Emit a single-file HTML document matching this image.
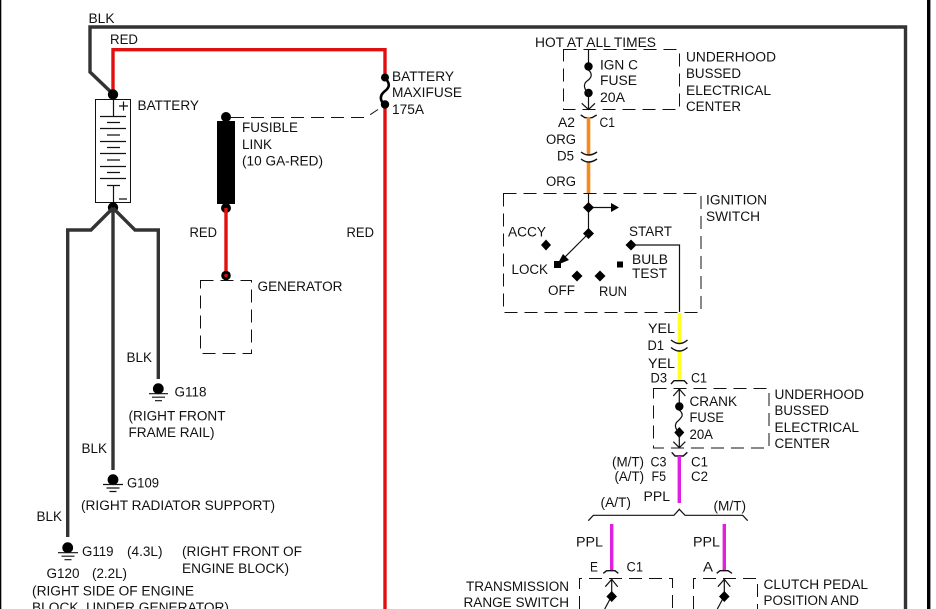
<!DOCTYPE html>
<html>
<head>
<meta charset="utf-8">
<style>
html,body{margin:0;padding:0;background:#fff;width:936px;height:609px;overflow:hidden}
svg{display:block}
text{font-family:"Liberation Sans",sans-serif;font-size:13.5px;fill:#111}
.d{fill:none;stroke:#111;stroke-width:1;stroke-dasharray:13 7}
.l{fill:none;stroke:#111;stroke-width:1.2}
.f{fill:none;stroke:#111;stroke-width:1.4}
.k{fill:none;stroke:#333;stroke-width:3.4}
.r{fill:none;stroke:#e01010;stroke-width:3.4}
.o{fill:none;stroke:#f58a1f;stroke-width:3.6}
.y{fill:none;stroke:#ffff20;stroke-width:3.6}
.m{fill:none;stroke:#e020e0;stroke-width:3.4}
</style>
</head>
<body>
<svg width="936" height="609" viewBox="0 0 936 609" xmlns="http://www.w3.org/2000/svg">
<rect width="936" height="609" fill="#fff"/>
<rect x="0" y="0" width="1.3" height="609" fill="#000"/>
<rect x="927" y="0" width="3.4" height="609" fill="#000"/>

<!-- main wires -->
<polyline class="k" points="113,94 90,72 90,27 905.5,27 905.5,609"/>
<polyline class="r" points="113,94 113,49.7 385,49.7 385,74"/>
<line class="r" x1="385" y1="105" x2="385" y2="609"/>

<!-- battery -->
<rect x="95.5" y="99.5" width="35" height="103" fill="#fff" stroke="#111" stroke-width="1"/>
<path class="l" d="M113.5 99V116.5M100 116.5H126M107 122.5H120M100 128.5H126M107 135H120M100 141.5H126M107 147.5H120M100 153.5H126M107 160H120M100 166.5H126M107 172.5H120M100 178.5H126M107 185.5H120M113.5 185.5V202"/>
<path d="M119 106H128M123.5 101.5V110.5M119 199H127" fill="none" stroke="#111" stroke-width="1.2"/>
<circle cx="113" cy="94.5" r="5.2" fill="#000"/>
<circle cx="113" cy="207.5" r="5.2" fill="#000"/>
<polyline class="k" points="113,208 91,230 67.7,230 67.7,537"/>
<line class="k" x1="113" y1="208" x2="113" y2="470"/>
<polyline class="k" points="113,208 135,230 158.3,230 158.3,379"/>

<!-- grounds -->
<circle cx="158.3" cy="388.7" r="5.4" fill="#000"/>
<path class="l" d="M149 393.7H168M152 397.2H165M155 400.7H162"/>
<circle cx="113" cy="479.7" r="5.4" fill="#000"/>
<path class="l" d="M103 484.5H123M106.5 488H119.5M109.5 491.5H116.5"/>
<circle cx="67.7" cy="547.7" r="5.4" fill="#000"/>
<path class="l" d="M58 552.7H78M61.5 556.2H74.5M64.5 559.7H71.5"/>

<!-- fusible link -->
<rect x="217" y="121" width="18" height="83" fill="#000"/>
<circle cx="226" cy="117" r="5" fill="#000"/>
<circle cx="226" cy="208" r="5" fill="#000"/>
<line class="r" x1="226" y1="208" x2="226" y2="275"/>
<circle cx="226" cy="275.5" r="4.8" fill="#000"/>
<circle cx="226" cy="275.5" r="1.8" fill="#d01010"/>
<polyline class="d" points="231,117.5 366,117.5 378,109.5"/>
<rect class="d" x="200.5" y="280.5" width="51" height="73"/>

<!-- maxifuse -->
<circle cx="385" cy="77.5" r="4" fill="#000"/>
<circle cx="385" cy="104.5" r="4.2" fill="#000"/>
<path d="M385 78C391 84 389 88 385 91C380 95 379 100 385 105" fill="none" stroke="#000" stroke-width="2.6"/>

<!-- ign c fuse box -->
<rect class="d" x="563.5" y="49.5" width="116" height="60"/>
<line class="l" x1="588.5" y1="50" x2="588.5" y2="66"/>
<circle cx="588.5" cy="66.5" r="4.2" fill="#000"/>
<circle cx="588.5" cy="93" r="4.2" fill="#000"/>
<path class="l" d="M588.5 70C594 75 590 79 587 81C583 84 584 89 588 93"/>
<path class="l" d="M588.5 93V109.5M581.7 103.3L588.5 109.5L595 103.3"/>
<path class="f" d="M580.7 115L585 117.7H592L596.7 115"/>
<line class="o" x1="588.5" y1="117" x2="588.5" y2="155"/>
<line class="o" x1="588.5" y1="162" x2="588.5" y2="193"/>
<path class="f" d="M581 152Q588.5 158 597 152M581 159Q588.5 165 597 159"/>

<!-- ignition switch -->
<rect class="d" x="503.5" y="193.5" width="197.5" height="119"/>
<line class="l" x1="588.5" y1="193" x2="588.5" y2="234"/>
<path class="l" d="M588.5 207.5H612"/>
<path d="M611 203L619 207.5L611 212Z" fill="#000"/>
<path d="M588.5 202L594 207.5L588.5 213L583 207.5Z" fill="#000"/>
<path d="M588.5 228L594 233.5L588.5 239L583 233.5Z" fill="#000"/>
<line class="l" x1="588.5" y1="233.5" x2="559" y2="263"/>
<path d="M557 265L563 254L569 260Z" fill="#000"/>
<rect x="554" y="261" width="7" height="7" fill="#000"/>
<circle cx="546" cy="245" r="3.4" fill="#000"/>
<path d="M546 239.500L551 245L546 250.500L541 245Z" fill="#000"/>
<path d="M631 239.500L636.500 245L631 250.500L625.500 245Z" fill="#000"/>
<path class="l" d="M631 245H679.500V312"/>
<rect x="617" y="261.500" width="6" height="6" fill="#000"/>
<path d="M577 270.500L582.500 276L577 281.500L571.500 276Z" fill="#000"/>
<path d="M600 270.500L605.500 276L600 281.500L594.500 276Z" fill="#000"/>

<!-- yellow -->
<line class="y" x1="679.500" y1="313" x2="679.500" y2="344"/>
<line class="y" x1="679.500" y1="351" x2="679.500" y2="380"/>
<path class="f" d="M671 340Q679.500 347 687.500 340M671 347.500Q679.500 354.500 687.500 347.500"/>
<path class="f" d="M671 384L674 380.700H684.300L687.300 384"/>

<!-- crank fuse box -->
<rect class="d" x="653.500" y="388.500" width="115.500" height="59.500"/>
<path class="l" d="M679.300 389V406M673.300 396L679.300 389L685.300 396"/>
<circle cx="679.300" cy="406.500" r="4.200" fill="#000"/>
<path d="M679.300 427L684.300 432.500L679.300 438L674.300 432.500Z" fill="#000"/>
<path class="l" d="M679.300 410C685 415 681 418 678 421C674 424 675 429 679 432"/>
<path class="l" d="M679.300 432V448M673.300 441.700L679.300 447.700L685.300 441.700"/>
<path class="f" d="M671.700 452.300L675 456H683.300L687.300 452.300"/>
<line class="m" x1="679.300" y1="456" x2="679.300" y2="503"/>
<polyline class="l" points="588.300,520.700 593.300,515.300 674,515.300 679.300,509.300 685,515.300 742.700,515.300 747.700,520.700"/>

<!-- lower branches -->
<line class="m" x1="611.700" y1="524" x2="611.700" y2="570.700"/>
<line class="m" x1="724.300" y1="524" x2="724.300" y2="570.700"/>
<path class="f" d="M603.300 573.300L606.700 570.700H615L618.300 573.300M716.700 573.300L720 570.700H728L732 573.300"/>
<path class="d" d="M579.500 609V578.500H672.500V609"/>
<path class="d" d="M693.500 609V578.500H757.500V609"/>
<path class="l" d="M611.700 579V596M605.300 586.700L611.700 579.300L617.700 586.700M611.700 596L604.700 609"/>
<path d="M611.700 591L617 596.500L611.700 602L606.400 596.500Z" fill="#000"/>
<path class="l" d="M724.300 579V596M717.900 586.700L724.300 579.300L730.300 586.700M724.300 596L717.300 609"/>
<path d="M724.300 591L729.600 596.500L724.300 602L719 596.500Z" fill="#000"/>

<!-- labels -->
<text x="88.500" y="23" textLength="26" lengthAdjust="spacingAndGlyphs">BLK</text>
<text x="110" y="44" textLength="28" lengthAdjust="spacingAndGlyphs">RED</text>
<text x="137.500" y="110" textLength="61.500" lengthAdjust="spacingAndGlyphs">BATTERY</text>
<text x="242" y="132" textLength="56" lengthAdjust="spacingAndGlyphs">FUSIBLE</text>
<text x="242" y="149" textLength="30" lengthAdjust="spacingAndGlyphs">LINK</text>
<text x="242" y="165.500" textLength="81" lengthAdjust="spacingAndGlyphs">(10 GA-RED)</text>
<text x="189.500" y="237" textLength="27.500" lengthAdjust="spacingAndGlyphs">RED</text>
<text x="346.500" y="237" textLength="27.500" lengthAdjust="spacingAndGlyphs">RED</text>
<text x="257.500" y="291" textLength="85" lengthAdjust="spacingAndGlyphs">GENERATOR</text>
<text x="392" y="81" textLength="62" lengthAdjust="spacingAndGlyphs">BATTERY</text>
<text x="392" y="97" textLength="70" lengthAdjust="spacingAndGlyphs">MAXIFUSE</text>
<text x="392" y="114" textLength="32" lengthAdjust="spacingAndGlyphs">175A</text>

<text x="126.500" y="362" textLength="25.500" lengthAdjust="spacingAndGlyphs">BLK</text>
<text x="174.500" y="396.700" textLength="32" lengthAdjust="spacingAndGlyphs">G118</text>
<text x="128.500" y="420.700" textLength="97" lengthAdjust="spacingAndGlyphs">(RIGHT FRONT</text>
<text x="128.500" y="437" textLength="86" lengthAdjust="spacingAndGlyphs">FRAME RAIL)</text>
<text x="81.500" y="453" textLength="25.500" lengthAdjust="spacingAndGlyphs">BLK</text>
<text x="127" y="487.700" textLength="32" lengthAdjust="spacingAndGlyphs">G109</text>
<text x="81" y="510" textLength="194" lengthAdjust="spacingAndGlyphs">(RIGHT RADIATOR SUPPORT)</text>
<text x="36.500" y="521" textLength="25.500" lengthAdjust="spacingAndGlyphs">BLK</text>
<text x="82" y="556" textLength="31.500" lengthAdjust="spacingAndGlyphs">G119</text>
<text x="127" y="556" textLength="35.500" lengthAdjust="spacingAndGlyphs">(4.3L)</text>
<text x="182" y="556" textLength="120" lengthAdjust="spacingAndGlyphs">(RIGHT FRONT OF</text>
<text x="182" y="573" textLength="107" lengthAdjust="spacingAndGlyphs">ENGINE BLOCK)</text>
<text x="46.500" y="578" textLength="33" lengthAdjust="spacingAndGlyphs">G120</text>
<text x="92" y="578" textLength="35" lengthAdjust="spacingAndGlyphs">(2.2L)</text>
<text x="32" y="595.500" textLength="162" lengthAdjust="spacingAndGlyphs">(RIGHT SIDE OF ENGINE</text>
<text x="32" y="612" textLength="197" lengthAdjust="spacingAndGlyphs">BLOCK, UNDER GENERATOR)</text>

<text x="535" y="47" textLength="121" lengthAdjust="spacingAndGlyphs">HOT AT ALL TIMES</text>
<text x="600" y="69.300" textLength="38" lengthAdjust="spacingAndGlyphs">IGN C</text>
<text x="600" y="85" textLength="37" lengthAdjust="spacingAndGlyphs">FUSE</text>
<text x="600" y="102" textLength="25" lengthAdjust="spacingAndGlyphs">20A</text>
<text x="686" y="61.700" textLength="90" lengthAdjust="spacingAndGlyphs">UNDERHOOD</text>
<text x="686" y="78" textLength="55" lengthAdjust="spacingAndGlyphs">BUSSED</text>
<text x="686" y="95" textLength="85" lengthAdjust="spacingAndGlyphs">ELECTRICAL</text>
<text x="686" y="111" textLength="55" lengthAdjust="spacingAndGlyphs">CENTER</text>
<text x="558" y="127" textLength="17" lengthAdjust="spacingAndGlyphs">A2</text>
<text x="599.500" y="127" textLength="15.500" lengthAdjust="spacingAndGlyphs">C1</text>
<text x="546" y="144" textLength="30" lengthAdjust="spacingAndGlyphs">ORG</text>
<text x="557" y="160.700" textLength="17" lengthAdjust="spacingAndGlyphs">D5</text>
<text x="546" y="186" textLength="30" lengthAdjust="spacingAndGlyphs">ORG</text>
<text x="706" y="204.300" textLength="61" lengthAdjust="spacingAndGlyphs">IGNITION</text>
<text x="706" y="221" textLength="54" lengthAdjust="spacingAndGlyphs">SWITCH</text>
<text x="508" y="236.700" textLength="38" lengthAdjust="spacingAndGlyphs">ACCY</text>
<text x="629" y="236" textLength="43" lengthAdjust="spacingAndGlyphs">START</text>
<text x="632" y="264" textLength="36" lengthAdjust="spacingAndGlyphs">BULB</text>
<text x="632" y="278" textLength="35" lengthAdjust="spacingAndGlyphs">TEST</text>
<text x="511.500" y="274" textLength="36.500" lengthAdjust="spacingAndGlyphs">LOCK</text>
<text x="548" y="295" textLength="27" lengthAdjust="spacingAndGlyphs">OFF</text>
<text x="599" y="296" textLength="28" lengthAdjust="spacingAndGlyphs">RUN</text>

<text x="648" y="333" textLength="27" lengthAdjust="spacingAndGlyphs">YEL</text>
<text x="647.500" y="350" textLength="16.500" lengthAdjust="spacingAndGlyphs">D1</text>
<text x="648" y="368" textLength="27" lengthAdjust="spacingAndGlyphs">YEL</text>
<text x="650.500" y="382.300" textLength="16.500" lengthAdjust="spacingAndGlyphs">D3</text>
<text x="691" y="382.300" textLength="16" lengthAdjust="spacingAndGlyphs">C1</text>
<text x="689.500" y="406" textLength="47.500" lengthAdjust="spacingAndGlyphs">CRANK</text>
<text x="689.500" y="422" textLength="34.500" lengthAdjust="spacingAndGlyphs">FUSE</text>
<text x="689.500" y="439" textLength="23.500" lengthAdjust="spacingAndGlyphs">20A</text>
<text x="774.500" y="399" textLength="89.500" lengthAdjust="spacingAndGlyphs">UNDERHOOD</text>
<text x="774.500" y="415" textLength="54.500" lengthAdjust="spacingAndGlyphs">BUSSED</text>
<text x="774.500" y="432" textLength="84.500" lengthAdjust="spacingAndGlyphs">ELECTRICAL</text>
<text x="774.500" y="448" textLength="55.500" lengthAdjust="spacingAndGlyphs">CENTER</text>
<text x="612" y="466.700" textLength="32" lengthAdjust="spacingAndGlyphs">(M/T)</text>
<text x="650.500" y="466.700" textLength="16" lengthAdjust="spacingAndGlyphs">C3</text>
<text x="691" y="466.700" textLength="17" lengthAdjust="spacingAndGlyphs">C1</text>
<text x="614.500" y="481" textLength="29.500" lengthAdjust="spacingAndGlyphs">(A/T)</text>
<text x="651.500" y="481" textLength="14.500" lengthAdjust="spacingAndGlyphs">F5</text>
<text x="691" y="481" textLength="17" lengthAdjust="spacingAndGlyphs">C2</text>
<text x="643.500" y="501" textLength="26.500" lengthAdjust="spacingAndGlyphs">PPL</text>
<text x="600.500" y="507" textLength="30.500" lengthAdjust="spacingAndGlyphs">(A/T)</text>
<text x="713.500" y="510.700" textLength="32.500" lengthAdjust="spacingAndGlyphs">(M/T)</text>
<text x="576" y="546.700" textLength="27" lengthAdjust="spacingAndGlyphs">PPL</text>
<text x="693" y="546.700" textLength="27" lengthAdjust="spacingAndGlyphs">PPL</text>
<text x="590" y="571.700" textLength="8" lengthAdjust="spacingAndGlyphs">E</text>
<text x="626.500" y="571.700" textLength="16.500" lengthAdjust="spacingAndGlyphs">C1</text>
<text x="703" y="571.700" textLength="10" lengthAdjust="spacingAndGlyphs">A</text>
<text x="466" y="591" textLength="103" lengthAdjust="spacingAndGlyphs">TRANSMISSION</text>
<text x="463.500" y="607" textLength="105.500" lengthAdjust="spacingAndGlyphs">RANGE SWITCH</text>
<text x="763.500" y="589" textLength="104.500" lengthAdjust="spacingAndGlyphs">CLUTCH PEDAL</text>
<text x="763.500" y="605" textLength="95.500" lengthAdjust="spacingAndGlyphs">POSITION AND</text>
</svg>
</body>
</html>
